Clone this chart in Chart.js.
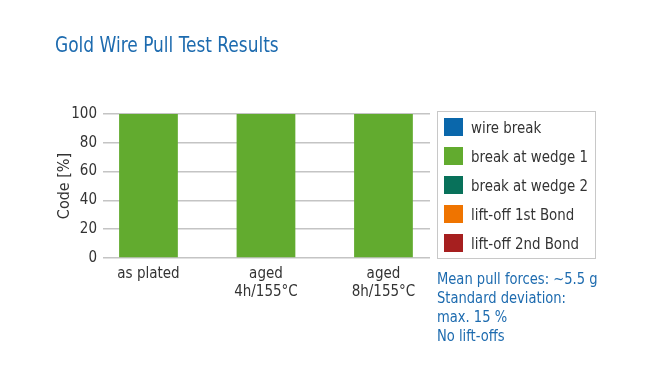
<!DOCTYPE html>
<html>
<head>
<meta charset="utf-8">
<script src="https://cdn.jsdelivr.net/npm/chart.js@4.4.1/dist/chart.umd.min.js"></script>
<style>
    body { margin: 0; background: #fff; }
    #wrap { position: relative; width: 650px; height: 389px; font-family: "DejaVu Sans Condensed", Lato, sans-serif; }
    #myChart { position: absolute; left: 0; top: 0; }
    #title { position: absolute; left: 55px; top: 32px; font-size: 22px; color: #1d6baf; white-space: nowrap; transform: scaleX(0.86); transform-origin: left top; }
    #legend { position: absolute; left: 437px; top: 111px; width: 159px; height: 148px; border: 1px solid #c8c8c8; box-sizing: border-box; }
    .item { position: absolute; left: 6px; height: 18px; display: flex; align-items: center; font-size: 16px; color: #333; white-space: nowrap; }
    .sw { width: 19px; height: 18px; margin-right: 8px; flex: none; }
    .lbl { display: inline-block; transform: scaleX(0.93); transform-origin: left center; }
    #notes { position: absolute; left: 437px; top: 269px; font-size: 16px; line-height: 19px; color: #1d6baf; white-space: nowrap; transform: scaleX(0.91); transform-origin: left top; }
</style>
</head>
<body>
<div id="wrap">
    <canvas id="myChart" width="650" height="389"></canvas>
    <div id="title">Gold Wire Pull Test Results</div>
    <div id="legend"></div>
    <div id="notes">Mean pull forces: ~5.5 g<br>Standard deviation:<br>max. 15 %<br>No lift-offs</div>
</div>
<script>
// chart data
const categories = [['as plated'], ['aged', '4h/155°C'], ['aged', '8h/155°C']];
const seriesNames = ['wire break', 'break at wedge 1', 'break at wedge 2', 'lift-off 1st Bond', 'lift-off 2nd Bond'];
const seriesColors = ['#0a67ab', '#62ab2f', '#08715a', '#ef7400', '#a61f1f'];
const wireBreak = [0, 0, 0];
const breakWedge1 = [100, 100, 100];
const breakWedge2 = [0, 0, 0];
const liftOff1st = [0, 0, 0];
const liftOff2nd = [0, 0, 0];
const yTicks = [0, 20, 40, 60, 80, 100];

const seriesValues = [wireBreak, breakWedge1, breakWedge2, liftOff1st, liftOff2nd];

Chart.defaults.font.family = '"DejaVu Sans Condensed", Lato, sans-serif';
Chart.defaults.color = '#333';

const ctx = document.getElementById('myChart').getContext('2d');
new Chart(ctx, {
    type: 'bar',
    data: {
        datasets: seriesNames.map((name, i) => ({
            label: name,
            data: seriesValues[i].map((v, j) => ({ x: j, y: v })),
            backgroundColor: seriesColors[i],
            barPercentage: 1,
            categoryPercentage: 0.5
        }))
    },
    options: {
        responsive: false,
        animation: false,
        layout: { padding: { left: 0, top: 114, right: 220, bottom: 0 } },
        plugins: { legend: { display: false }, tooltip: { enabled: false } },
        scales: {
            // linear x so the grid can start a little left of the first band, as in the original
            x: {
                type: 'linear',
                stacked: true,
                offset: false,
                bounds: 'data',
                min: -0.387,
                max: 2.396,
                grid: { display: false, drawTicks: false },
                border: { display: false },
                afterBuildTicks: s => { s.ticks = categories.map((c, i) => ({ value: i })); },
                ticks: { font: { size: 15 }, padding: 7, maxRotation: 0, autoSkip: false, callback: v => categories[v] },
                afterFit: s => { s.height = 131; }
            },
            y: {
                stacked: true,
                min: 0,
                max: 100,
                grid: { color: '#c4c4c4', lineWidth: 1.5, drawTicks: false },
                border: { display: false },
                afterBuildTicks: s => { s.ticks = yTicks.map(v => ({ value: v })); },
                ticks: { font: { size: 15 }, padding: 6 },
                title: { display: true, text: 'Code [%]', font: { size: 16 }, padding: { top: 55 } },
                afterFit: s => { s.width = 103; }
            }
        }
    }
});

// boxed legend on the right
const legend = document.getElementById('legend');
seriesNames.forEach((name, i) => {
    const item = document.createElement('div');
    item.className = 'item';
    item.style.top = (6 + i * 29) + 'px';
    item.innerHTML = '<span class="sw" style="background:' + seriesColors[i] + '"></span><span class="lbl">' + name + '</span>';
    legend.appendChild(item);
});
</script>
</body>
</html>
